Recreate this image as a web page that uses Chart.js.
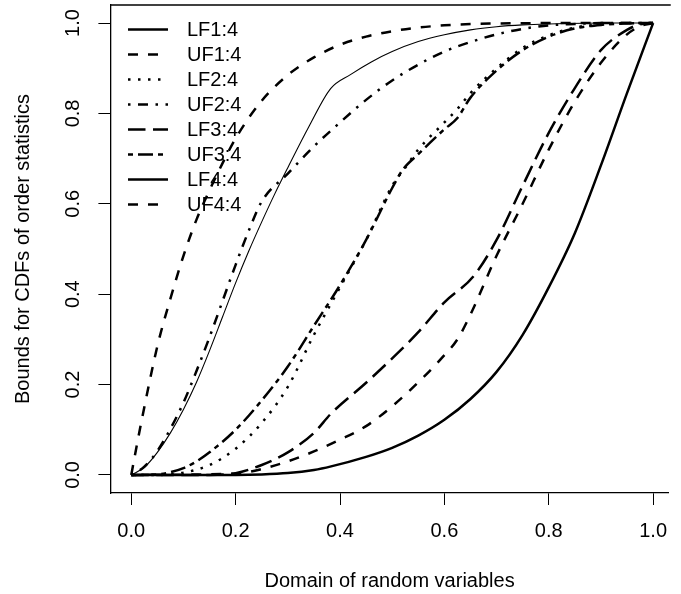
<!DOCTYPE html>
<html><head><meta charset="utf-8">
<script src="https://cdn.jsdelivr.net/npm/chart.js@4"></script>
<style>html,body{margin:0;padding:0;background:#fff;overflow:hidden}#wrap{width:681px;height:594px}</style>
</head><body><div id="wrap"><canvas id="c" width="681" height="594"></canvas></div>
<script>
// ---- data ----
const seriesNames = ['LF1:4','UF1:4','LF2:4','UF2:4','LF3:4','UF3:4','LF4:4','UF4:4'];
const xTicks = [0, 0.2, 0.4, 0.6, 0.8, 1.0];
const yTicks = [0, 0.2, 0.4, 0.6, 0.8, 1.0];
const xTitle = 'Domain of random variables';
const yTitle = 'Bounds for CDFs of order statistics';

const lf1X = [0, 0.025, 0.05, 0.075, 0.1, 0.125, 0.15, 0.175, 0.2, 0.225, 0.25, 0.275, 0.3, 0.34, 0.382, 0.42, 0.46, 0.5, 0.55, 0.6, 0.65, 0.7, 0.75, 0.8, 0.9, 1];
const lf1Y = [0, 0.017, 0.05, 0.093, 0.145, 0.205, 0.275, 0.35, 0.425, 0.495, 0.56, 0.622, 0.68, 0.77, 0.855, 0.886, 0.914, 0.937, 0.959, 0.974, 0.985, 0.992, 0.996, 0.998, 1, 1];

const uf1X = [0, 0.01, 0.025, 0.05, 0.075, 0.1, 0.125, 0.15, 0.175, 0.2, 0.25, 0.3, 0.35, 0.4, 0.45, 0.5, 0.55, 0.6, 0.65, 0.7, 0.8, 1];
const uf1Y = [0, 0.062, 0.15, 0.285, 0.39, 0.485, 0.565, 0.63, 0.69, 0.745, 0.828, 0.885, 0.924, 0.952, 0.97, 0.982, 0.99, 0.995, 0.998, 0.999, 1, 1];

const lf2X = [0, 0.05, 0.1, 0.15, 0.2, 0.25, 0.3, 0.35, 0.4, 0.45, 0.5, 0.525, 0.55, 0.6, 0.625, 0.65, 0.7, 0.75, 0.8, 0.85, 0.9, 0.95, 1];
const lf2Y = [0, 0, 0.005, 0.022, 0.058, 0.115, 0.195, 0.31, 0.415, 0.52, 0.64, 0.68, 0.72, 0.78, 0.81, 0.845, 0.9, 0.945, 0.973, 0.99, 0.997, 1, 1];

const uf2X = [0, 0.025, 0.05, 0.075, 0.1, 0.125, 0.15, 0.175, 0.2, 0.225, 0.25, 0.3, 0.35, 0.4, 0.45, 0.5, 0.55, 0.6, 0.65, 0.7, 0.75, 0.8, 0.85, 0.9, 1];
const uf2Y = [0, 0.018, 0.053, 0.102, 0.16, 0.23, 0.305, 0.385, 0.465, 0.54, 0.605, 0.667, 0.727, 0.78, 0.83, 0.873, 0.908, 0.937, 0.958, 0.975, 0.987, 0.995, 0.998, 1, 1];

const lf3X = [0, 0.15, 0.2, 0.25, 0.3, 0.35, 0.383, 0.45, 0.5, 0.55, 0.6, 0.656, 0.7, 0.75, 0.8, 0.85, 0.9, 0.95, 0.975, 1];
const lf3Y = [0, 0, 0.004, 0.022, 0.05, 0.093, 0.136, 0.204, 0.258, 0.316, 0.382, 0.44, 0.52, 0.64, 0.757, 0.856, 0.94, 0.985, 0.997, 1];

const uf3X = [0, 0.05, 0.075, 0.1, 0.125, 0.15, 0.2, 0.25, 0.3, 0.35, 0.4, 0.45, 0.5, 0.52, 0.55, 0.6, 0.625, 0.65, 0.7, 0.75, 0.8, 0.85, 0.9, 0.95, 1];
const uf3Y = [0, 0.001, 0.006, 0.015, 0.03, 0.05, 0.1, 0.165, 0.24, 0.33, 0.42, 0.52, 0.635, 0.675, 0.71, 0.765, 0.79, 0.835, 0.895, 0.94, 0.97, 0.988, 0.996, 0.999, 1];

const lf4X = [0, 0.2, 0.25, 0.3, 0.35, 0.383, 0.45, 0.5, 0.55, 0.6, 0.65, 0.7, 0.75, 0.8, 0.85, 0.9, 0.95, 1];
const lf4Y = [0, 0, 0.001, 0.004, 0.011, 0.019, 0.04, 0.06, 0.087, 0.122, 0.168, 0.228, 0.31, 0.415, 0.535, 0.685, 0.845, 1];

const uf4X = [0, 0.2, 0.25, 0.3, 0.35, 0.4, 0.45, 0.5, 0.55, 0.6, 0.625, 0.65, 0.7, 0.75, 0.8, 0.85, 0.9, 0.95, 0.975, 1];
const uf4Y = [0, 0.003, 0.013, 0.03, 0.052, 0.078, 0.108, 0.152, 0.205, 0.265, 0.3, 0.355, 0.485, 0.6, 0.72, 0.826, 0.912, 0.975, 0.993, 1];

// ---- styling (kept apart from data) ----
const seriesX = [lf1X, uf1X, lf2X, uf2X, lf3X, uf3X, lf4X, uf4X];
const seriesY = [lf1Y, uf1Y, lf2Y, uf2Y, lf3Y, uf3Y, lf4Y, uf4Y];
const W = 2.5;
const dashes = [[], [10,10], [2.5,7.5], [2.5,7.5,10,7.5], [17.5,7.5], [5,5,15,5], [], [10,10]];
const plotWidths = [1.1, W, W, W, W, W, W, W];

function pts(xs, ys){ return xs.map((x,i)=>({x:x, y:ys[i]})); }

const datasets = seriesNames.map((name,i)=>({
  label: name,
  data: pts(seriesX[i], seriesY[i]),
  showLine: true,
  borderColor: '#000',
  backgroundColor: '#000',
  borderWidth: plotWidths[i],
  borderDash: dashes[i],
  borderCapStyle: 'butt',
  borderJoinStyle: 'round',
  pointRadius: 0,
  pointHoverRadius: 0,
  cubicInterpolationMode: 'monotone',
  fill: false
}));

const FONT = "'Liberation Sans', Arial, Helvetica, sans-serif";
Chart.defaults.font.family = FONT;
Chart.defaults.font.size = 20;
Chart.defaults.color = '#000';

const decor = {
  id: 'decor',
  afterDraw(chart){
    const ctx = chart.ctx, a = chart.chartArea, ys = chart.scales.y;
    ctx.save();
    // top border of the box
    ctx.strokeStyle = '#000'; ctx.lineWidth = 1.3; ctx.setLineDash([]);
    ctx.beginPath(); ctx.moveTo(a.left, a.top); ctx.lineTo(a.right + 2, a.top); ctx.stroke();
    // rotated y tick labels
    ctx.fillStyle = '#000';
    ctx.font = '20px ' + FONT;
    ctx.textAlign = 'center'; ctx.textBaseline = 'middle';
    yTicks.forEach(v=>{
      const py = ys.getPixelForValue(v);
      ctx.save(); ctx.translate(a.left - 37, py); ctx.rotate(-Math.PI/2);
      ctx.fillText(v.toFixed(1), 0, 0); ctx.restore();
    });
    // legend (top-left, no box)
    ctx.textAlign = 'left';
    chart.data.datasets.forEach((ds,i)=>{
      const yy = a.top + 24.5 + 25*i;
      ctx.lineWidth = W; ctx.setLineDash(ds.borderDash); ctx.lineCap = 'butt';
      ctx.beginPath(); ctx.moveTo(a.left + 17.6, yy); ctx.lineTo(a.left + 57.6, yy); ctx.stroke();
      ctx.setLineDash([]);
      ctx.fillText(ds.label, a.left + 76.6, yy + 1);
    });
    ctx.restore();
  }
};

new Chart(document.getElementById('c'), {
  type: 'scatter',
  data: { datasets },
  plugins: [decor],
  options: {
    responsive: false,
    animation: false,
    devicePixelRatio: 1,
    layout: { padding: { top: 5, right: 0, bottom: 0, left: 0 } },
    plugins: { legend: { display: false }, tooltip: { enabled: false } },
    scales: {
      x: {
        type: 'linear', min: -0.04, max: 1.03,
        afterBuildTicks: s => { s.ticks = xTicks.map(v=>({value:v})); },
        afterFit: s => { s.height = 101; },
        ticks: { padding: 14, maxRotation: 0, autoSkip: false, callback: v => Number(v).toFixed(1), font: { size: 20 } },
        grid: { drawOnChartArea: false, drawTicks: true, tickLength: 12, color: '#000', lineWidth: 1 },
        border: { display: true, color: '#000', width: 1.3 },
        title: { display: true, text: xTitle, font: { size: 20 }, padding: { top: 0, bottom: 1 } }
      },
      y: {
        type: 'linear', min: -0.04, max: 1.04,
        afterBuildTicks: s => { s.ticks = yTicks.map(v=>({value:v})); },
        afterFit: s => { s.width = 110.4; },
        ticks: { display: false },
        grid: { drawOnChartArea: false, drawTicks: true, tickLength: 12, color: '#000', lineWidth: 1 },
        border: { display: true, color: '#000', width: 1.3 },
        title: { display: true, text: yTitle, font: { size: 20 }, padding: { top: 11, bottom: 0 } }
      }
    }
  }
});
</script></body></html>
